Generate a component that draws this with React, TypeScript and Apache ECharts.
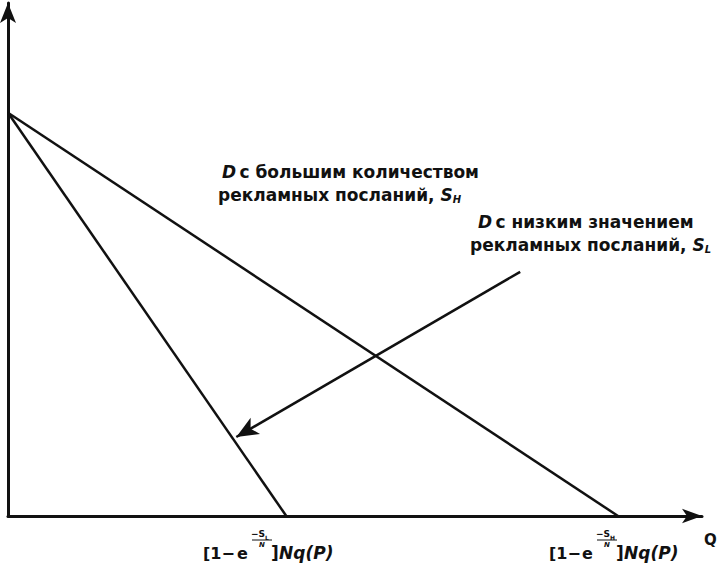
import React, { useEffect, useRef } from "react";
import * as echarts from "echarts";

const demandIntercept = 78.6;
const steepLine: [number, number][] = [[0, demandIntercept], [40.1, 0]];
const flatLine: [number, number][] = [[0, demandIntercept], [87.9, 0]];
const arrowFrom: [number, number] = [73.8, 47.6];
const arrowTo: [number, number] = [32.9, 15.4];
const labelHigh = ["с большим количеством", "рекламных посланий, "];
const labelLow = ["с низким значением", "рекламных посланий, "];

const FONT = "'DejaVu Sans', 'Liberation Sans', Arial, sans-serif";
const INK = "#111";

type EqPos = { x: number; e: number; frac: number; br: number; nq: number };

function eqLabel(p: EqPos, sub: string) {
  return {
    type: "group",
    x: p.x,
    y: 553,
    children: [
      { type: "text", x: 0, y: 0, style: { text: "[1−", font: `bold 16px ${FONT}`, fill: INK, verticalAlign: "middle" } },
      { type: "text", x: p.e, y: 0, style: { text: "e", font: `bold 16px ${FONT}`, fill: INK, verticalAlign: "middle" } },
      { type: "text", x: p.frac - 4, y: -19, style: { text: "−S", font: `bold 9px ${FONT}`, fill: INK, verticalAlign: "middle", align: "center" } },
      { type: "text", x: p.frac + 3, y: -16, style: { text: sub, font: `bold 6px ${FONT}`, fill: INK, verticalAlign: "middle", align: "left" } },
      { type: "line", shape: { x1: p.frac - 10, y1: -13, x2: p.frac + 10, y2: -13 }, style: { stroke: INK, lineWidth: 1 } },
      { type: "text", x: p.frac, y: -8, style: { text: "N", font: `italic bold 7px ${FONT}`, fill: INK, verticalAlign: "middle", align: "center" } },
      { type: "text", x: p.br, y: 0, style: { text: "]", font: `bold 17px ${FONT}`, fill: INK, verticalAlign: "middle" } },
      { type: "text", x: p.nq, y: 0, style: { text: "Nq(P)", font: `italic bold 17px ${FONT}`, fill: INK, verticalAlign: "middle" } },
    ],
  };
}

function textLine(x: number, y: number, body: string, lead: string, sub: string) {
  const rich = {
    i: { font: `italic bold 17px ${FONT}`, fill: INK },
    n: { font: `bold 17px ${FONT}`, fill: INK },
    s: { font: `italic bold 10px ${FONT}`, fill: INK, padding: [9, 0, 0, 0] },
  };
  let text = "";
  if (lead) text += "{i|" + lead + "} ";
  text += "{n|" + body + "}";
  if (sub) text += "{i|S}{s|" + sub + "}";
  return { type: "text", x, y, style: { text, rich, verticalAlign: "middle" } };
}

export default function App() {
  const ref = useRef<HTMLDivElement>(null);
  useEffect(() => {
    const chart = echarts.init(ref.current!, null, { renderer: "svg" });
    chart.setOption({
      animation: false,
      backgroundColor: "#fff",
      grid: { left: 8, top: 3, right: 19, bottom: 54 },
      xAxis: {
        type: "value",
        min: 0,
        max: 100,
        axisLine: { show: true, symbol: ["none", "arrow"], symbolSize: [11, 20], lineStyle: { color: INK, width: 3 } },
        axisTick: { show: false },
        axisLabel: { show: false },
        splitLine: { show: false },
      },
      yAxis: {
        type: "value",
        min: 0,
        max: 100,
        axisLine: { show: true, symbol: ["none", "arrow"], symbolSize: [12, 20], lineStyle: { color: INK, width: 3 } },
        axisTick: { show: false },
        axisLabel: { show: false },
        splitLine: { show: false },
      },
      series: [
        {
          type: "line",
          data: steepLine,
          symbol: "none",
          lineStyle: { color: INK, width: 2.5 },
        },
        {
          type: "line",
          data: flatLine,
          symbol: "none",
          lineStyle: { color: INK, width: 2.5 },
          markLine: {
            silent: true,
            symbol: ["none", "arrow"],
            symbolSize: [14, 22],
            label: { show: false },
            lineStyle: { color: INK, width: 2.5, type: "solid" },
            data: [[{ coord: arrowFrom }, { coord: arrowTo }]],
          },
        },
      ],
      graphic: [
        textLine(222, 172, labelHigh[0], "D", ""),
        textLine(218, 195, labelHigh[1], "", "H"),
        textLine(478, 222, labelLow[0], "D", ""),
        textLine(470, 245, labelLow[1], "", "L"),
        eqLabel({ x: 203, e: 34, frac: 59, br: 68, nq: 76 }, "L"),
        eqLabel({ x: 549, e: 33, frac: 58, br: 67, nq: 75 }, "H"),
        { type: "text", x: 704, y: 540, style: { text: "Q", font: `bold 15px ${FONT}`, fill: INK, verticalAlign: "middle" } },
      ],
    });
    return () => chart.dispose();
  }, []);
  return <div ref={ref} style={{ position: "fixed", left: 0, top: 0, width: 721, height: 570 }} />;
}
